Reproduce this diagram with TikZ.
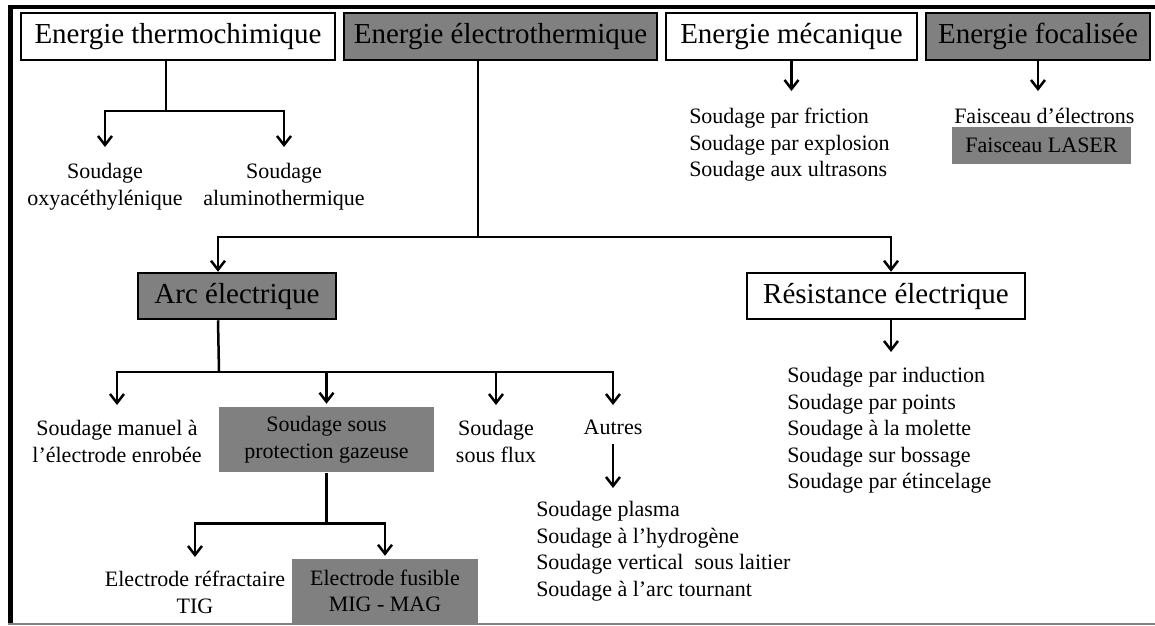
\documentclass[tikz,border=0pt]{standalone}
\usepackage{fontspec}
\setmainfont{Liberation Serif}
\usetikzlibrary{arrows.meta}
\definecolor{grisFonce}{RGB}{128,128,128}

\begin{document}
\begin{tikzpicture}[x=1pt,y=-1pt,line width=2.5pt,
	boite/.style={draw,fill=white,inner sep=0pt,minimum height=47pt,font=\fontsize{29}{31}\selectfont},
	boiteGrise/.style={boite,fill=grisFonce},
	fondGris/.style={fill=grisFonce,inner sep=0pt,align=center,font=\petit},
	texte/.style={inner sep=0pt,align=center,font=\petit,anchor=north},
	liste/.style={inner sep=0pt,align=left,font=\petit,anchor=north west},
	fleche/.style={-{Straight Barb[length=9pt,width=14pt]}}]
	\newcommand\petit{\fontsize{22}{26.5}\selectfont}
	\useasboundingbox (0,0) rectangle (1155,625);
	% les quatre formes d'energie
	\node[boite,minimum width=314pt] (thermo) at (178,36.5) {Energie thermochimique};
	\node[boiteGrise,minimum width=313pt] (electro) at (500.5,36.5) {Energie électrothermique};
	\node[boite,minimum width=251pt] (meca) at (791.5,36.5) {Energie mécanique};
	\node[boiteGrise,minimum width=224pt] (focal) at (1038,36.5) {Energie focalisée};
	% thermochimique
	\node[texte] (oxy) at (105,162) {Soudage\\oxyacéthylénique};
	\node[texte] (alu) at (284,162) {Soudage\\aluminothermique};
	\path (166,111) coordinate (t);
	\draw (thermo.south -| t) -- (t);
	\foreach \n in {oxy,alu}
	\draw[fleche,shorten >=15pt] (t) -| (\n.north);
	% mecanique et focalisee
	\node[liste] (mecalist) at (688,107) {Soudage par friction\\Soudage par explosion\\Soudage aux ultrasons};
	\node[liste] (faisceau) at (953,107) {Faisceau d’électrons};
	\node[fondGris,minimum width=179pt,minimum height=37pt] (laser) at (1041.5,145.5) {Faisceau LASER};
	\draw[fleche,shorten >=16pt] (meca.south) -- (meca.south |- mecalist.north);
	\draw[fleche,shorten >=16pt] (focal.south) -- (focal.south |- faisceau.north);
	% electrothermique
	\node[boiteGrise,minimum width=198pt,minimum height=46pt] (arc) at (237,296) {Arc électrique};
	\node[boite,minimum width=278pt,minimum height=46pt] (resist) at (886,296) {Résistance électrique};
	\path (478,237) coordinate (e) (218,0) coordinate (xa) (891,0) coordinate (xr);
	\draw (electro.south -| e) -- (e);
	\draw[fleche] (e) -| (xa |- arc.north);
	\draw[fleche] (e) -| (xr |- resist.north);
	% resistance electrique
	\node[liste] (reslist) at (786,366) {Soudage par induction\\Soudage par points\\Soudage à la molette\\Soudage sur bossage\\Soudage par étincelage};
	\draw[fleche,shorten >=14pt] (xr |- resist.south) -- (xr |- reslist.north);
	% arc electrique
	\node[texte] (manuel) at (117,419) {Soudage manuel à\\l’électrode enrobée};
	\node[fondGris,minimum width=215pt,minimum height=65pt] (sspg) at (326.5,439.5) {Soudage sous\\protection gazeuse};
	\node[texte] (flux) at (496,419) {Soudage\\sous flux};
	\node[texte] (autres) at (613,419) {Autres};
	\path (219,372) coordinate (a);
	\draw (xa |- arc.south) -- (a);
	\foreach \n/\s in {manuel/14pt,sspg/2pt,flux/14pt,autres/14pt}
	\draw[fleche,shorten >=\s] (a) -| (\n.north);
	\node[liste] (autlist) at (535,500) {Soudage plasma\\Soudage à l’hydrogène\\Soudage vertical\ \ sous laitier\\Soudage à l’arc tournant};
	\draw[fleche,shorten <=8pt,shorten >=12pt] (autres.south) -- (autres.south |- autlist.north);
	% protection gazeuse
	\node[texte] (refr) at (195,570) {Electrode réfractaire\\TIG};
	\node[fondGris,minimum width=186pt,minimum height=64pt] (fusible) at (385,591) {Electrode fusible\\MIG - MAG};
	\path (sspg.south) ++(0,50) coordinate (s);
	\draw (sspg.south) -- (s);
	\foreach \n/\s in {refr/13pt,fusible/2pt}
	\draw[fleche,shorten >=\s] (s) -| (\n.north);
	% cadre
	\draw[line width=3.5pt] (8,6.75) -- (1155,6.75);
	\draw[line width=4.5pt] (10.5,5) -- (10.5,625);
	\draw[line width=2pt,gray] (8,623.5) -- (1155,623.5);
\end{tikzpicture}
\end{document}
